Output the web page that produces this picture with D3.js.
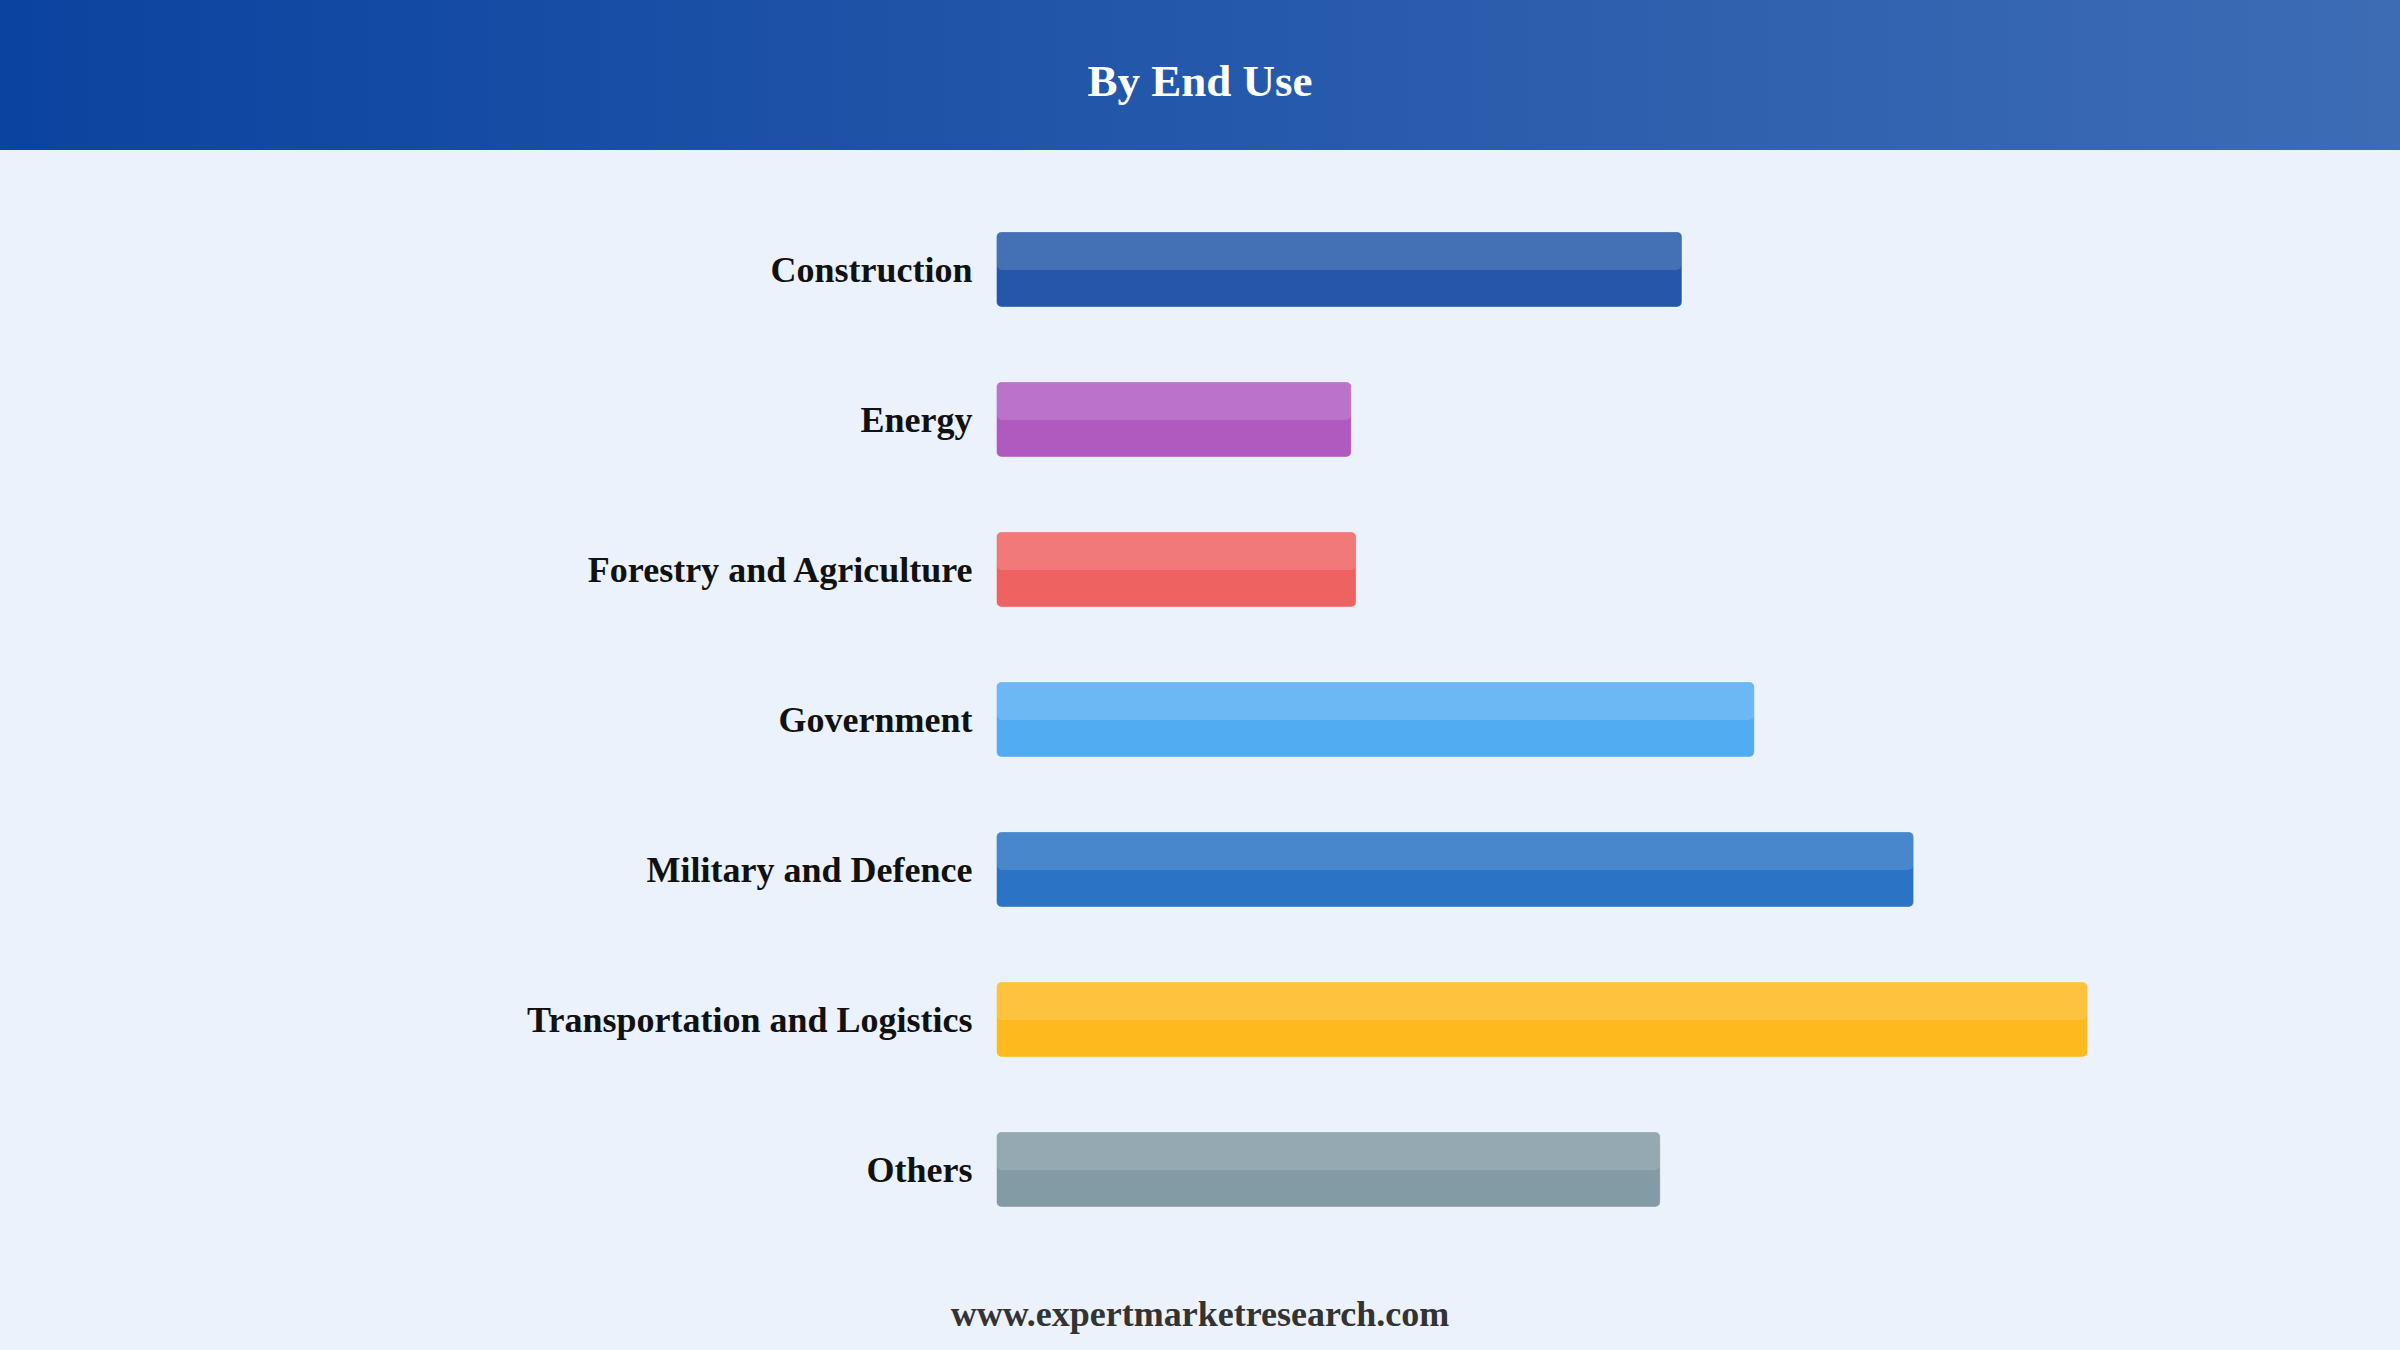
<!DOCTYPE html>
<html>
<head>
<meta charset="utf-8">
<script src="https://cdn.jsdelivr.net/npm/d3@7"></script>
<style>
  html, body { margin: 0; padding: 0; background: #ebf2fc; }
  svg { display: block; }
</style>
</head>
<body>
<svg id="chart" width="2400" height="1350"></svg>
<script>
const title = "By End Use";
const footer = "www.expertmarketresearch.com";
const categories = ["Construction", "Energy", "Forestry and Agriculture", "Government", "Military and Defence", "Transportation and Logistics", "Others"];
const values = [14.2, 7.35, 7.45, 15.7, 19.0, 22.6, 13.75];
const colors = ["#2457a9", "#b05ac0", "#ef6262", "#52acf2", "#2a73c5", "#fdb91e", "#839ba5"];

const W = 2400, H = 1350;
const svg = d3.select("#chart");

const defs = svg.append("defs");
const grad = defs.append("linearGradient").attr("id", "hdr").attr("x1", "0").attr("x2", "1").attr("y1", "0").attr("y2", "0");
grad.append("stop").attr("offset", "0").attr("stop-color", "#0b43a0");
grad.append("stop").attr("offset", "0.5").attr("stop-color", "#2458aa");
grad.append("stop").attr("offset", "1").attr("stop-color", "#3d6cb5");

svg.append("rect").attr("width", W).attr("height", H).attr("fill", "#ebf2fc");
svg.append("rect").attr("width", W).attr("height", 150).attr("fill", "url(#hdr)");
svg.append("text")
  .attr("x", W / 2).attr("y", 96)
  .attr("text-anchor", "middle")
  .attr("font-family", "'Liberation Serif', 'Times New Roman', serif")
  .attr("font-weight", "bold")
  .attr("font-size", 45)
  .attr("fill", "#ffffff")
  .text(title);

const x = d3.scaleLinear().domain([0, 25]).range([996.5, 996.5 + 25 * 48.27]);
const y = d3.scaleBand().domain(categories).range([194.5, 1244.5]).paddingInner(0.5).paddingOuter(0.25);

const g = svg.append("g");
const rows = g.selectAll("g.row").data(categories).join("g").attr("class", "row");

rows.append("rect")
  .attr("x", x(0))
  .attr("y", d => y(d))
  .attr("width", (d, i) => x(values[i]) - x(0))
  .attr("height", y.bandwidth())
  .attr("rx", 5).attr("ry", 5)
  .attr("fill", (d, i) => colors[i])
  .attr("stroke", "rgba(255,255,255,0.35)")
  .attr("stroke-width", 1);

rows.append("rect")
  .attr("x", x(0) + 0.5)
  .attr("y", d => y(d) + 0.5)
  .attr("width", (d, i) => x(values[i]) - x(0) - 1)
  .attr("height", y.bandwidth() / 2)
  .attr("rx", 5).attr("ry", 5)
  .attr("fill", "rgba(255,255,255,0.15)");

rows.append("text")
  .attr("x", x(0) - 24)
  .attr("y", d => y(d) + y.bandwidth() / 2)
  .attr("dy", "0.35em")
  .attr("text-anchor", "end")
  .attr("font-family", "'Liberation Serif', 'Times New Roman', serif")
  .attr("font-weight", "bold")
  .attr("font-size", 36)
  .attr("fill", "#111111")
  .text(d => d);

svg.append("text")
  .attr("x", W / 2).attr("y", 1326)
  .attr("text-anchor", "middle")
  .attr("font-family", "'Liberation Serif', 'Times New Roman', serif")
  .attr("font-weight", "bold")
  .attr("font-size", 36)
  .attr("fill", "#333333")
  .text(footer);
</script>
</body>
</html>
